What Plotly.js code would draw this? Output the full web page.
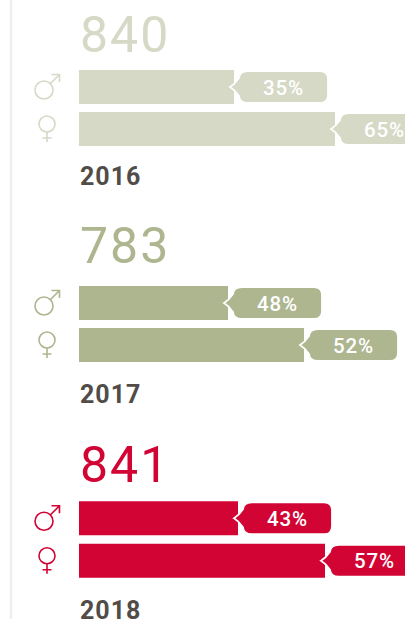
<!DOCTYPE html>
<html>
<head>
<meta charset="utf-8">
<script src="https://cdn.plot.ly/plotly-3.0.1.min.js"></script>
<style>
html,body{margin:0;padding:0;background:#fff;overflow:hidden}
#chart{width:405px;height:619px}
.annotation-text{letter-spacing:0.04em}
</style>
</head>
<body>
<div id="chart"></div>
<script>
// ---- data ----
var years = ['2016', '2017', '2018'];
var totals = ['840', '783', '841'];
var genders = ['male', 'female'];
var barLengths2016 = [155, 256];
var barLengths2017 = [149, 225];
var barLengths2018 = [159, 246];
var shareLabels2016 = ['35%', '65%'];
var shareLabels2017 = ['48%', '52%'];
var shareLabels2018 = ['43%', '57%'];

// ---- styling and layout ----
var W = 405, H = 619, BAR_LEFT = 79, FONT = 'Roboto, sans-serif';
var colours = ['#d5d9c5', '#adb68f', '#d10434'];
var yearColour = '#514c47';
var rowTops = [66, 282, 497];      // top pixel of each group's two-row band
var bandHeights = [84, 84, 85];
var totalY = [35, 245.5, 465];     // pixel centre of big totals
var yearY = [176, 394, 610];       // pixel centre of year labels
var barPx = 34;

var lengths = [barLengths2016, barLengths2017, barLengths2018];
var labels = [shareLabels2016, shareLabels2017, shareLabels2018];
function py(px) { return 1 - px / H; }

var BUBBLE = 'M-4,0 Q1,3 5,9 Q5.5,16 14,16 L86,16 Q94,16 94,8 L94,-8 Q94,-16 86,-16 ' +
             'L14,-16 Q5.5,-16 5,-9 Q1,-3 -4,0 Z';

var traces = [], shapes = [], annotations = [];
var layout = {
  width: W, height: H,
  margin: {l: 0, r: 0, t: 0, b: 0, pad: 0},
  paper_bgcolor: '#fff', plot_bgcolor: 'rgba(0,0,0,0)',
  showlegend: false, hovermode: false,
  xaxis: {range: [-BAR_LEFT, W - BAR_LEFT], domain: [0, 1], visible: false, fixedrange: true}
};

// left rule
shapes.push({type: 'line', xref: 'paper', yref: 'paper', x0: 11 / W, x1: 11 / W, y0: 0, y1: 1,
             line: {color: '#efefef', width: 2.5}});

function iconShapes(ref, c) {
  var base = {xref: 'x', yref: ref, xsizemode: 'pixel', ysizemode: 'pixel', xanchor: 0, layer: 'above'};
  var ln = {color: c, width: 1.6};
  function s(o, row) { return Object.assign({}, base, {yanchor: genders[row], line: ln, fillcolor: 'rgba(0,0,0,0)'}, o); }
  return [
    // male: ring, shaft and arrow head
    s({type: 'circle', x0: -44, x1: -26, y0: -12, y1: 6}, 0),
    s({type: 'path', path: 'M-29,3 L-20,12 M-27.5,12.5 L-19.5,12.5 L-19.5,5'}, 0),
    // female: ring, stem and cross bar
    s({type: 'circle', x0: -40, x1: -24, y0: -3, y1: 13}, 1),
    s({type: 'path', path: 'M-32,-3 L-32,-13 M-36.5,-9 L-27.5,-9'}, 1)
  ];
}

years.forEach(function (yr, g) {
  var axisName = g === 0 ? 'yaxis' : 'yaxis' + (g + 1);
  var ref = g === 0 ? 'y' : 'y' + (g + 1);
  layout[axisName] = {
    type: 'category', categoryorder: 'array', categoryarray: genders,
    range: [1.5, -0.5], visible: false, fixedrange: true, anchor: 'x',
    domain: [py(rowTops[g] + bandHeights[g]), py(rowTops[g])]
  };
  traces.push({
    type: 'bar', orientation: 'h', xaxis: 'x', yaxis: ref,
    x: lengths[g], y: genders, width: barPx / (bandHeights[g] / 2),
    marker: {color: colours[g], line: {width: 0}}, hoverinfo: 'skip', textposition: 'none'
  });
  genders.forEach(function (gd, i) {
    shapes.push({
      type: 'path', layer: 'above', xref: 'x', yref: ref, xsizemode: 'pixel', ysizemode: 'pixel',
      xanchor: lengths[g][i], yanchor: gd, path: BUBBLE,
      fillcolor: colours[g], line: {color: '#fff', width: 1.8}
    });
    annotations.push({
      xref: 'x', yref: ref, x: lengths[g][i], y: gd, xshift: 49, yshift: -0.5,
      text: labels[g][i], showarrow: false, xanchor: 'center', yanchor: 'middle',
      font: {family: FONT, size: 20.5, weight: 500, color: '#fff'}
    });
  });
  shapes = shapes.concat(iconShapes(ref, colours[g]));
  annotations.push({
    xref: 'paper', yref: 'paper', x: 78 / W, y: py(totalY[g]), xanchor: 'left', yanchor: 'middle',
    text: totals[g], showarrow: false,
    font: {family: FONT, size: 50, weight: 400, color: colours[g]}
  });
  annotations.push({
    xref: 'paper', yref: 'paper', x: 78 / W, y: py(yearY[g]), xanchor: 'left', yanchor: 'middle',
    text: yr, showarrow: false,
    font: {family: FONT, size: 25, weight: 700, color: yearColour}
  });
});

layout.shapes = shapes;
layout.annotations = annotations;
Plotly.newPlot('chart', traces, layout, {displayModeBar: false, staticPlot: true});
</script>
</body>
</html>
